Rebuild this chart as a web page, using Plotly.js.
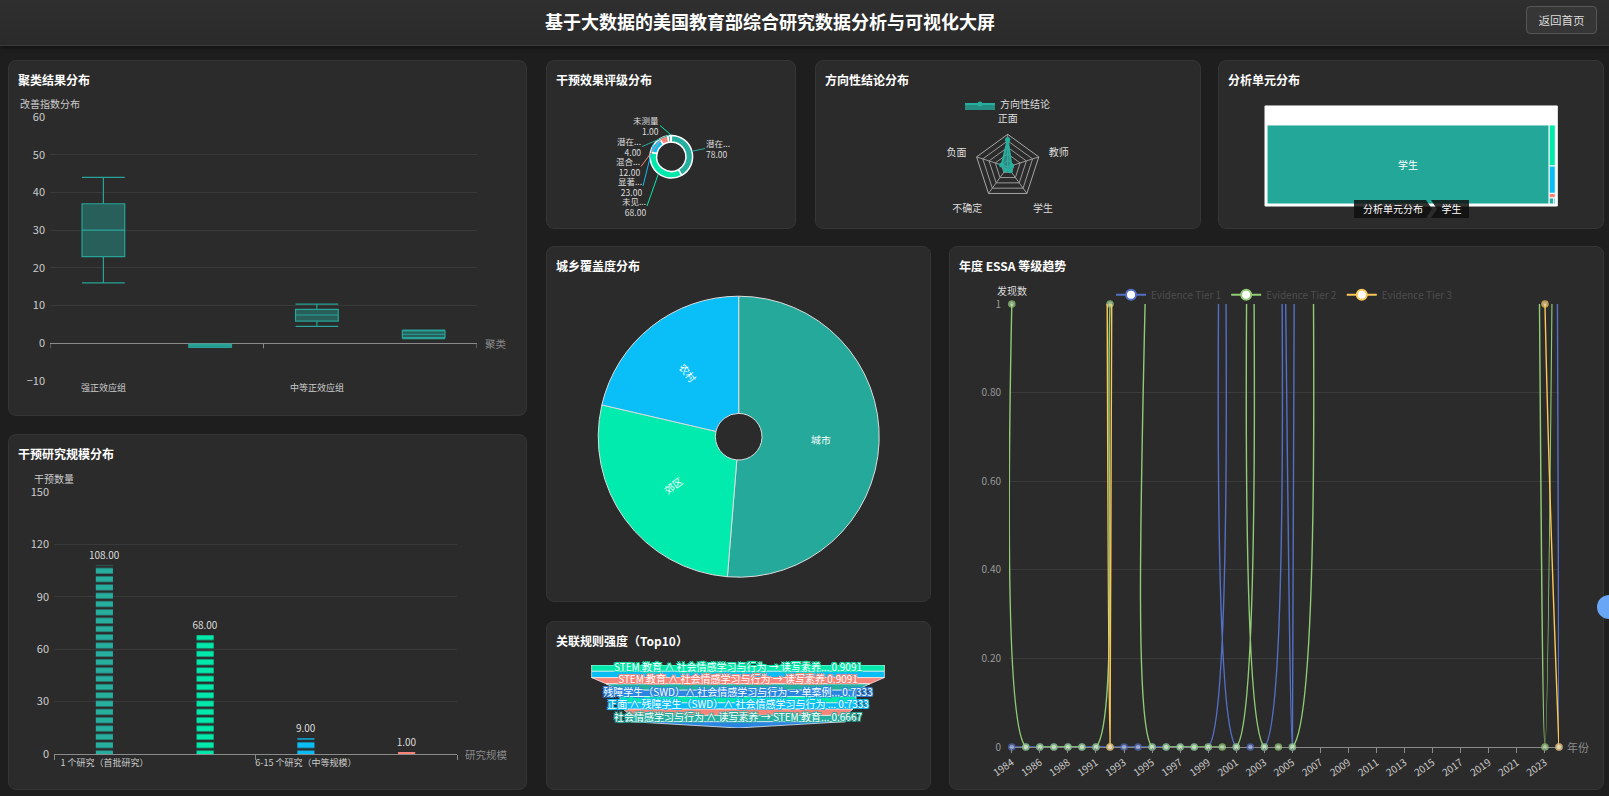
<!DOCTYPE html>
<html lang="zh-CN">
<head>
<meta charset="utf-8">
<title>基于大数据的美国教育部综合研究数据分析与可视化大屏</title>
<script src="https://cdn.plot.ly/plotly-3.0.1.min.js"></script>
<style>
html,body{margin:0;padding:0;width:1609px;height:796px;overflow:hidden;background:#1e1e1e;font-family:"Microsoft YaHei","Noto Sans CJK SC","Noto Sans",sans-serif;}
.header{position:absolute;left:0;top:0;width:1609px;height:45px;background:linear-gradient(180deg,#2f2f2f,#2a2a2a);border-bottom:1px solid #3a3a3a;box-shadow:0 2px 4px rgba(0,0,0,.45);}
.header h1{position:absolute;left:0;top:0;width:1540px;margin:0;line-height:42px;text-align:center;font-size:18px;font-weight:bold;color:#fff;}
.btn{position:absolute;left:1526px;top:6px;width:69px;height:26px;border:1px solid #565656;border-radius:4px;background:#363636;color:#ddd;font-size:11.5px;line-height:26px;text-align:center;}
.panel{position:absolute;background:#2b2b2b;border:1px solid #353535;border-radius:8px;box-sizing:border-box;}
.ptitle{position:absolute;left:9px;top:10px;font-size:12px;font-weight:bold;color:#fff;line-height:18px;z-index:3;white-space:nowrap;}
.chart{position:absolute;left:-1px;top:-1px;}
.crumb{position:absolute;height:18px;line-height:18px;background:rgba(15,15,15,0.85);color:#fff;font-size:10px;text-align:center;z-index:3;}
.fab{position:absolute;left:1597px;top:595px;width:24px;height:24px;border-radius:50%;background:#6aa6f6;z-index:5;}
</style>
</head>
<body>
<div class="header"><h1>基于大数据的美国教育部综合研究数据分析与可视化大屏</h1><div class="btn">返回首页</div></div>

<div class="panel" style="left:8px;top:60px;width:519px;height:356px;"><div class="chart" id="c1"></div><div class="ptitle">聚类结果分布</div></div>
<div class="panel" style="left:8px;top:434px;width:519px;height:356px;"><div class="chart" id="c2"></div><div class="ptitle">干预研究规模分布</div></div>
<div class="panel" style="left:546px;top:60px;width:250px;height:169px;"><div class="chart" id="c3"></div><div class="ptitle">干预效果评级分布</div></div>
<div class="panel" style="left:815px;top:60px;width:386px;height:169px;"><div class="chart" id="c4"></div><div class="ptitle">方向性结论分布</div></div>
<div class="panel" style="left:1218px;top:60px;width:386px;height:169px;"><div class="chart" id="c5"></div><div class="ptitle">分析单元分布</div>
  <div class="crumb" style="left:135px;top:139px;width:78px;clip-path:polygon(0 0,calc(100% - 6px) 0,100% 50%,calc(100% - 6px) 100%,0 100%);">分析单元分布</div>
  <div class="crumb" style="left:212px;top:139px;width:38px;clip-path:polygon(0 0,100% 0,100% 100%,0 100%,6px 50%);padding-left:3px;box-sizing:border-box;">学生</div>
</div>
<div class="panel" style="left:546px;top:246px;width:385px;height:356px;"><div class="chart" id="c6"></div><div class="ptitle">城乡覆盖度分布</div></div>
<div class="panel" style="left:546px;top:621px;width:385px;height:169px;"><div class="chart" id="c7"></div><div class="ptitle">关联规则强度（Top10）</div></div>
<div class="panel" style="left:949px;top:246px;width:655px;height:544px;"><div class="chart" id="c8"></div><div class="ptitle">年度 ESSA 等级趋势</div></div>
<div class="fab"></div>

<script>
// ---------------- DATA ----------------
// 聚类结果分布 (box plot statistics)
const clusterNames = ['强正效应组', '负效应组', '中等正效应组', '弱正效应组'];
const clusterMin = [16, -1.1, 4.5, 1.2];
const clusterQ1 = [23, -1.0, 5.9, 1.5];
const clusterMedian = [30, -0.6, 7.5, 2.4];
const clusterQ3 = [37, -0.3, 9.0, 3.3];
const clusterMax = [44, -0.2, 10.4, 3.5];

// 干预研究规模分布
const scaleNames = ['1 个研究（首批研究）', '2-5 个研究（小规模）', '6-15 个研究（中等规模）', '16 个以上研究（大规模）'];
const scaleCounts = [108, 68, 9, 1];

// 干预效果评级分布
const ratingNames = ['潜在积极效果', '未见显著效果', '显著积极效果', '混合效果', '潜在消极效果', '未测量'];
const ratingCounts = [78, 68, 23, 12, 4, 1];

// 方向性结论分布
const directionAxes = ['正面', '教师', '学生', '不确定', '负面'];
const directionValues = [150, 22, 25, 20, 35];
const directionMax = 180;

// 分析单元分布
const unitRoot = '分析单元分布';
const unitNames = ['学生', '教师', '学校', '班级', '家庭', '学区'];
const unitCounts = [2400, 27, 18, 3, 3, 1];

// 城乡覆盖度分布
const areaNames = ['城市', '郊区', '农村'];
const areaCounts = [120, 64, 50];

// 关联规则强度（Top10）
const ruleNames = [
  'STEM 教育 ∧ 社会情感学习与行为 → 读写素养 ∧ 正面',
  'STEM 教育 ∧ 正面 ∧ 社会情感学习与行为 → 读写素养',
  'STEM 教育 ∧ 社会情感学习与行为 → 读写素养',
  '读写素养 ∧ 正面 → 社会情感学习与行为',
  '残障学生（SWD）∧ 社会情感学习与行为 → 单案例设计',
  '残障学生（SWD）∧ 单案例设计 → 社会情感学习与行为',
  '正面 ∧ 残障学生（SWD）∧ 社会情感学习与行为 → 单案例设计',
  '单案例设计 ∧ 社会情感学习与行为 → 残障学生（SWD）',
  '社会情感学习与行为 ∧ 读写素养 → STEM 教育 ∧ 正面',
  '社会情感学习与行为 ∧ 读写素养 → STEM 教育'
];
const ruleValues = [0.9091, 0.9091, 0.9091, 0.8182, 0.7333, 0.7333, 0.7333, 0.7143, 0.6667, 0.6667];

// 年度 ESSA 等级趋势
const years = ['1984','1985','1986','1987','1988','1989','1991','1992','1993','1994',
  '1995','1996','1997','1998','1999','2000','2001','2002','2003','2004',
  '2005','2006','2007','2008','2009','2010','2011','2012','2013','2014',
  '2015','2016','2017','2018','2019','2020','2021','2022','2023','2024'];
const tierNames = ['Evidence Tier 1', 'Evidence Tier 2', 'Evidence Tier 3'];
const tier1 = [0,0,0,0,0,0,0,0,0,0, 0,0,0,0,0,2,0,0,0,2, 0,8,6,7,9,5,8,10,7,6, 9,11,8,7,6,9,8,7,9,0];
const tier2 = [1,0,0,0,0,0,0,1,2,2, 0,0,0,0,0,0,0,2,0,0, 0,3,5,6,4,7,5,6,8,5, 6,7,5,4,6,5,4,3,0,3];
const tier3 = [6,5,6,7,5,6,8,0,7,5, 6,8,7,5,6,7,9,6,5,7, 6,8,5,7,6,9,7,5,6,8, 7,6,8,5,7,6,5,4,1,0];

// ---------------- STYLE ----------------
const FONT = '"Microsoft YaHei","Noto Sans CJK SC","Noto Sans",sans-serif';
const TEAL = '#26ae9f', MINT = '#00e8aa', SKY = '#0bbdf5', SALMON = '#f7857a', BLUE2 = '#2a86e0';
const CFG = {displayModeBar: false, responsive: false};
function base(w, h, m) {
  return {width: w, height: h, margin: m, paper_bgcolor: 'rgba(0,0,0,0)', plot_bgcolor: 'rgba(0,0,0,0)',
    font: {family: FONT, size: 10, color: '#ccc'}, showlegend: false, hovermode: false};
}

// 1. Box plot
(function () {
  const L = base(519, 356, {l: 42, r: 50, t: 57, b: 34.5});
  L.xaxis = {type: 'category', categoryarray: clusterNames, range: [-0.5, clusterNames.length - 0.5],
    tickmode: 'linear', tick0: 0, dtick: 2, tickangle: 0, ticks: '', showline: false, showgrid: false, zeroline: false,
    tickfont: {size: 9, color: '#ccc'}};
  L.yaxis = {range: [-10, 60], dtick: 10, tick0: 0, gridcolor: '#393939', gridwidth: 1, zeroline: true,
    zerolinecolor: '#8a8a8a', zerolinewidth: 1, showline: false, ticks: '', tickfont: {size: 11, color: '#ccc'}, ticklabelstandoff: 4};
  const bounds = [];
  for (let b = -0.5; b <= clusterNames.length - 0.5; b += 2) bounds.push(b);
  L.shapes = bounds.map(b => ({type: 'line', xref: 'x', yref: 'y', x0: b, x1: b, ysizemode: 'pixel', yanchor: 0, y0: 0, y1: -5,
    line: {color: '#8a8a8a', width: 1}}));
  L.annotations = [
    {xref: 'paper', yref: 'paper', x: 0, y: 1, yshift: 13.5, text: '改善指数分布', showarrow: false, font: {size: 10, color: '#ccc'}, xanchor: 'center', yanchor: 'middle'},
    {xref: 'paper', yref: 'y', x: 1, y: 0, xshift: 6, text: '聚类', showarrow: false, font: {size: 10.5, color: '#8a8a8a'}, xanchor: 'left', yanchor: 'middle'}
  ];
  Plotly.newPlot('c1', [{
    type: 'box', x: clusterNames, q1: clusterQ1, median: clusterMedian, q3: clusterQ3,
    lowerfence: clusterMin, upperfence: clusterMax, width: 0.4, whiskerwidth: 1,
    fillcolor: 'rgba(38,166,154,0.42)', line: {color: '#27a497', width: 1.2}, boxpoints: false, hoverinfo: 'skip'
  }], L, CFG);
})();

// 2. Bar chart
(function () {
  const L = base(519, 356, {l: 46, r: 70, t: 57.7, b: 35.7});
  L.xaxis = {type: 'category', categoryarray: scaleNames, range: [-0.5, scaleNames.length - 0.5],
    tickmode: 'linear', tick0: 0, dtick: 2, tickangle: 0, tickson: 'boundaries', ticks: 'outside', ticklen: 5, tickcolor: '#8a8a8a',
    showline: true, linecolor: '#8a8a8a', linewidth: 1, showgrid: false, zeroline: false, tickfont: {size: 9, color: '#ccc'}};
  L.yaxis = {range: [0, 150], dtick: 30, gridcolor: '#393939', zeroline: false, showline: false, ticks: '',
    tickfont: {size: 11, color: '#ccc'}, ticklabelstandoff: 4};
  L.annotations = [
    {xref: 'paper', yref: 'paper', x: 0, y: 1, yshift: 14, text: '干预数量', showarrow: false, font: {size: 10, color: '#ccc'}, xanchor: 'center', yanchor: 'middle'},
    {xref: 'paper', yref: 'y', x: 1, y: 0, xshift: 6, text: '研究规模', showarrow: false, font: {size: 10.5, color: '#8a8a8a'}, xanchor: 'left', yanchor: 'middle'}
  ];
  Plotly.newPlot('c2', [{
    type: 'bar', x: scaleNames, y: scaleCounts, width: 0.17,
    marker: {color: [TEAL, MINT, SKY, SALMON], pattern: {shape: '-', size: 8.3, solidity: 0.68}},
    text: scaleCounts.map(v => v.toFixed(2)), textposition: 'outside', constraintext: 'none', textangle: 0,
    textfont: {size: 10, color: '#ddd'}, cliponaxis: false, hoverinfo: 'skip'
  }], L, CFG);
})();

// 3. Donut with leader-line labels
(function () {
  const W = 250, H = 169;
  const L = base(W, H, {l: 0, r: 0, t: 0, b: 0});
  const cx = 125.3, cy = 96.7, R = 21.3;
  const dom = {x: [(cx - R) / W, (cx + R) / W], y: [(H - cy - R) / H, (H - cy + R) / H]};
  const colors = [TEAL, MINT, SKY, SALMON, TEAL, MINT];
  // label anchor spots (layout), one per slice, in panel pixels: [x, y, side]
  const spots = [[159, 88.5, 'left'], [101, 146, 'right'], [97, 126, 'right'], [95, 106.5, 'right'], [96, 86.5, 'right'], [114, 65.5, 'right']];
  const total = ratingCounts.reduce((a, b) => a + b, 0);
  let cum = 0;
  L.annotations = ratingCounts.map((v, i) => {
    const mid = (cum + v / 2) / total * 2 * Math.PI; cum += v;
    const hx = cx + (R + 0.5) * Math.sin(mid), hy = cy - (R + 0.5) * Math.cos(mid);
    const nm = ratingNames[i].length > 3 ? ratingNames[i].slice(0, 2) + '...' : ratingNames[i];
    const s = spots[i];
    return {xref: 'paper', yref: 'paper', x: hx / W, y: 1 - hy / H, ax: s[0] - hx, ay: s[1] - hy,
      showarrow: true, arrowhead: 0, arrowwidth: 1, arrowcolor: colors[i], standoff: 0,
      xanchor: s[2], yanchor: 'middle', align: s[2], text: nm + '<br>' + v.toFixed(2),
      font: {size: 8.5, color: '#dddddd'}, borderpad: 0};
  });
  Plotly.newPlot('c3', [{
    type: 'pie', labels: ratingNames, values: ratingCounts, textinfo: 'none', hole: 0.69, sort: false,
    direction: 'clockwise', rotation: 0,
    marker: {colors: colors, line: {color: '#ffffff', width: 1.5}},
    domain: dom, hoverinfo: 'skip'
  }], L, CFG);
})();

// 4. Radar
(function () {
  const L = base(386, 169, {l: 0, r: 0, t: 0, b: 0});
  L.showlegend = true;
  L.legend = {orientation: 'h', x: 0.4987, xanchor: 'center', y: 0.74, yanchor: 'middle', font: {size: 10, color: '#ddd'}, itemwidth: 30};
  const n = directionMax / 5;
  L.polar = {domain: {x: [0.4145, 0.5839], y: [0.1734, 0.5604]}, bgcolor: 'rgba(0,0,0,0)', gridshape: 'linear',
    radialaxis: {range: [0, directionMax], tickvals: [n, 2 * n, 3 * n, 4 * n, 5 * n], showticklabels: false, ticks: '', showline: false, gridcolor: '#9a9a9a', gridwidth: 1},
    angularaxis: {type: 'category', rotation: 90, direction: 'clockwise', gridcolor: '#9a9a9a', linecolor: '#a8a8a8',
      ticks: 'outside', ticklen: 8, tickcolor: 'rgba(0,0,0,0)', tickfont: {size: 10, color: '#ddd'}}
  };
  Plotly.newPlot('c4', [{
    type: 'scatterpolar', r: directionValues.concat([directionValues[0]]), theta: directionAxes.concat([directionAxes[0]]),
    name: '方向性结论', mode: 'lines+markers', fill: 'toself', fillcolor: 'rgba(38,174,159,0.75)',
    line: {color: TEAL, width: 2}, marker: {size: 5, color: TEAL}, hoverinfo: 'skip'
  }], L, CFG);
})();

// 5. Treemap
(function () {
  const L = base(386, 169, {l: 0, r: 0, t: 0, b: 0});
  L.uniformtext = {minsize: 9, mode: 'hide'};
  Plotly.newPlot('c5', [{
    type: 'treemap', labels: [unitRoot].concat(unitNames), parents: [''].concat(unitNames.map(() => unitRoot)),
    values: [0].concat(unitCounts), branchvalues: 'remainder', sort: true,
    marker: {colors: ['#ffffff', '#22a798', MINT, SKY, SALMON, TEAL, SKY], line: {color: '#ffffff', width: 1}, pad: {t: 19, l: 2, r: 2, b: 2}},
    textinfo: 'label', textposition: 'middle center', textfont: {size: 10, color: '#ffffff'},
    tiling: {packing: 'squarify', pad: 0}, pathbar: {visible: false},
    domain: {x: [0.1218, 0.879], y: [0.136, 0.728]}, hoverinfo: 'skip'
  }], L, CFG);
})();

// 6. Pie with radial labels
(function () {
  const W = 385, H = 356;
  const L = base(W, H, {l: 0, r: 0, t: 0, b: 0});
  const cx = 192.7, cy = 190.7, R = 140.5, hole = 0.166;
  const rm = R * (1 + hole) / 2;
  const total = areaCounts.reduce((a, b) => a + b, 0);
  let cum = 0;
  L.annotations = areaCounts.map((v, i) => {
    const midDeg = (cum + v / 2) / total * 360; cum += v;
    const m = midDeg * Math.PI / 180;
    let ang = midDeg - 90; if (ang > 90) ang -= 180;
    return {xref: 'paper', yref: 'paper', x: (cx + rm * Math.sin(m)) / W, y: 1 - (cy - rm * Math.cos(m)) / H,
      text: areaNames[i], showarrow: false, textangle: ang, xanchor: 'center', yanchor: 'middle', font: {size: 10, color: '#ffffff'}};
  });
  Plotly.newPlot('c6', [{
    type: 'pie', labels: areaNames, values: areaCounts, sort: false, direction: 'clockwise', rotation: 0, hole: hole,
    marker: {colors: ['#25a99b', '#00ebad', '#0abff7'], line: {color: '#dddddd', width: 1}},
    textinfo: 'none', domain: {x: [(cx - R) / W, (cx + R) / W], y: [(H - cy - R) / H, (H - cy + R) / H]}, hoverinfo: 'skip'
  }], L, CFG);
})();

// 7. Funnel (trapezoid pieces computed from the values)
(function () {
  const L = base(385, 169, {l: 31, r: 32, t: 43.5, b: 61.75});
  L.xaxis = {range: [-0.5, 0.5], visible: false, fixedrange: true};
  L.yaxis = {range: [ruleValues.length, 0], visible: false, fixedrange: true};
  const segColors = [MINT, SKY, SALMON, TEAL, BLUE2];
  const outline = c => `-1px -1px 0 ${c}, 1px -1px 0 ${c}, -1px 1px 0 ${c}, 1px 1px 0 ${c}, 0 0 2px ${c}`;
  const traces = [];
  ruleValues.forEach((v, i) => {
    const nx = i < ruleValues.length - 1 ? ruleValues[i + 1] : 0;
    traces.push({type: 'scatter', mode: 'lines', x: [-v / 2, v / 2, nx / 2, -nx / 2, -v / 2], y: [i, i, i + 1, i + 1, i],
      fill: 'toself', fillcolor: segColors[i % segColors.length], line: {color: 'rgba(255,255,255,0.85)', width: 0.8}, hoverinfo: 'skip'});
  });
  ruleValues.forEach((v, i) => {
    if (i % 2 !== 0) return;
    const nm = ruleNames[i].length > 26 ? ruleNames[i].slice(0, 26) + '...' : ruleNames[i];
    traces.push({type: 'scatter', mode: 'text', x: [0], y: [i + 0.5], text: [nm + ' ' + v.toFixed(4)],
      textposition: 'middle center', cliponaxis: false,
      textfont: {size: 10, color: '#ffffff', shadow: outline(segColors[i % segColors.length])}, hoverinfo: 'skip'});
  });
  Plotly.newPlot('c7', traces, L, CFG);
})();

// 8. Line chart
(function () {
  const L = base(655, 544, {l: 60.4, r: 44.5, t: 58.3, b: 43.3});
  L.showlegend = true;
  L.legend = {orientation: 'h', x: 0.5, xanchor: 'center', y: 1.021, yanchor: 'middle', font: {size: 10, color: '#4d4d4d'}, itemwidth: 30};
  L.xaxis = {type: 'category', categoryarray: years, range: [-0.2, years.length - 1], tickmode: 'linear', tick0: 0, dtick: 2,
    tickangle: -35, ticks: 'outside', ticklen: 5, tickcolor: '#8a8a8a', showline: false, showgrid: false, zeroline: false,
    tickfont: {size: 10, color: '#ccc'}};
  L.yaxis = {range: [0, 1], tickvals: [0, 0.2, 0.4, 0.6, 0.8, 1], ticktext: ['0', '0.20', '0.40', '0.60', '0.80', '1'],
    gridcolor: '#3a3a3a', zeroline: true, zerolinecolor: '#8a8a8a', zerolinewidth: 1, showline: false, ticks: '',
    tickfont: {size: 10, color: '#999'}, ticklabelstandoff: 7};
  L.annotations = [
    {xref: 'x', yref: 'paper', x: 0, y: 1, yshift: 14, text: '发现数', showarrow: false, font: {size: 10, color: '#ddd'}, xanchor: 'center', yanchor: 'middle'},
    {xref: 'paper', yref: 'y', x: 1, y: 0, xshift: 6, text: '年份', showarrow: false, font: {size: 11, color: '#8a8a8a'}, xanchor: 'left', yanchor: 'middle'}
  ];
  const colors = ['#5470c6', '#91cc75', '#fac858'];
  const fills = ['#b7c4ee', '#d3ecc6', '#fde7b4'];
  const series = [tier1, tier2, tier3];
  const traces = [];
  series.forEach((s, k) => {
    traces.push({type: 'scatter', mode: 'lines+markers', x: years, y: s, name: tierNames[k], showlegend: false,
      line: {color: colors[k], width: 1.4, shape: 'spline', smoothing: 1},
      marker: {size: s.map(v => v > 1 ? 0 : 6), color: fills[k], line: {color: colors[k], width: 1.6}},
      cliponaxis: false, hoverinfo: 'skip'});
  });
  series.forEach((s, k) => {
    traces.push({type: 'scatter', mode: 'lines+markers', x: [null], y: [null], name: tierNames[k], showlegend: true,
      line: {color: colors[k], width: 2}, marker: {size: 10, color: '#ffffff', line: {color: colors[k], width: 2}}, hoverinfo: 'skip'});
  });
  Plotly.newPlot('c8', traces, L, CFG);
})();
</script>
</body>
</html>
